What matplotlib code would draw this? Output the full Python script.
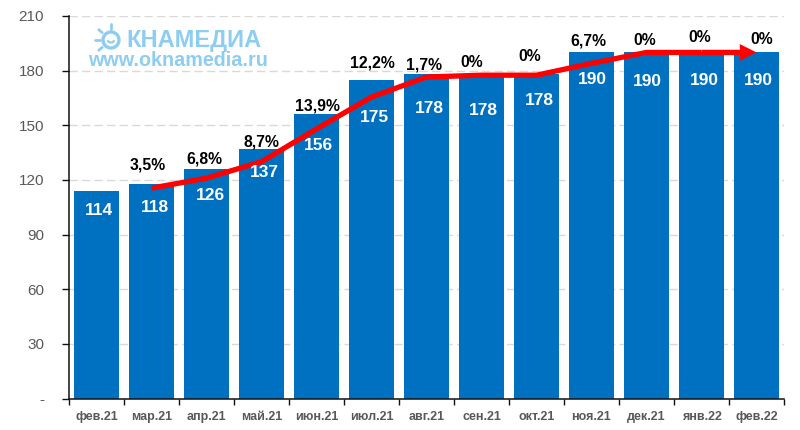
from __future__ import annotations

import matplotlib
matplotlib.use("Agg")
import matplotlib.pyplot as plt
import numpy as np
from matplotlib.patches import Circle, Arc


MONTHS = ["фев.21", "мар.21", "апр.21", "май.21", "июн.21", "июл.21", "авг.21",
          "сен.21", "окт.21", "ноя.21", "дек.21", "янв.22", "фев.22"]
PRICES = [114, 118, 126, 137, 156, 175, 178, 178, 178, 190, 190, 190, 190]
GROWTH = ["3,5%", "6,8%", "8,7%", "13,9%", "12,2%", "1,7%", "0%", "0%", "6,7%", "0%", "0%", "0%"]
TREND = [115.5, 121, 130, 148, 165.5, 176.5, 177.5, 177.5, 184, 190, 190, 190]
Y_TICKS = [0, 30, 60, 90, 120, 150, 180, 210]
Y_LABELS = ["-", "30", "60", "90", "120", "150", "180", "210"]

# hand placed label offsets in pixels, relative to top of bar
VALUE_DX = [2.5, 3.5, 3.5, 2.5, 1.5, 2.5, 2.5, 1.5, 2.5, 0.5, 0.5, 2.5, 1.5]
VALUE_DY = [20, 24, 27, 24, 31, 38, 34, 36, 26, 27.5, 29.5, 28, 28]
GROWTH_DX = [-3.5, -2.5, -0.5, 0.5, 0.5, -2.5, -9.5, -6.5, -3, -1.5, -2, 5.5]
GROWTH_DY = [18.6, 10, 7, 8, 17, 9, 12, 18, 11.5, 11.5, 14.5, 12.5]

BLUE = "#0070C0"
RED = "#FF0000"
LOGO = "#8ECDF2"
W, H = 800, 430
PX = 72 / 100  # points per pixel at dpi 100

plt.rcParams["font.family"] = ["Liberation Sans", "DejaVu Sans"]


def draw_logo(fig) -> None:
    over = fig.add_axes([0, 0, 1, 1], facecolor="none", zorder=5)
    over.set_xlim(0, W)
    over.set_ylim(H, 0)
    over.axis("off")
    cx, cy = 111, 40
    over.add_patch(Circle((cx, cy), 8, fill=False, ec=LOGO, lw=2.4))
    over.add_patch(Arc((cx, cy - 1), 7, 7, theta1=20, theta2=160, color=LOGO, lw=1.6))
    for angle in [90, 140, 180, 220]:
        a = np.deg2rad(angle)
        over.plot([cx + 11.5 * np.cos(a), cx + 16 * np.cos(a)],
                  [cy - 11.5 * np.sin(a), cy - 16 * np.sin(a)],
                  color=LOGO, lw=2.0, solid_capstyle="round")
    over.text(126, 40, "КНАМЕДИА", color=LOGO, fontsize=17, fontweight="bold", va="center", ha="left")
    over.text(88, 61, "www.oknamedia.ru", color=LOGO, fontsize=14.2, fontweight="bold", va="center", ha="left")


def main() -> None:
    fig = plt.figure(figsize=(W / 100, H / 100), dpi=100, facecolor="white")
    ax = fig.add_axes([69 / W, 1 - 398.5 / H, (784 - 69) / W, (398.5 - 16) / H])
    x = np.arange(len(MONTHS))

    ax.bar(x, PRICES, width=0.83, color=BLUE, zorder=2)
    ax.set_xlim(-0.5, 12.5)
    ax.set_ylim(0, 210)

    ax.set_yticks(Y_TICKS, Y_LABELS, fontsize=11, color="#595959")
    ax.set_xticks(x, MONTHS, fontsize=9, color="#595959", fontweight="bold")
    ax.set_xticks(np.arange(-0.5, 13), minor=True)
    ax.tick_params(axis="y", length=5, width=1, pad=13, color="#111111")
    ax.tick_params(axis="x", which="major", length=0, pad=9)
    ax.tick_params(axis="x", which="minor", length=4, width=1, color="#111111")
    ax.grid(axis="y", color="#D9D9D9", linestyle=(0, (6, 3)), linewidth=1, zorder=1)
    ax.set_axisbelow(True)
    for side in ["top", "right"]:
        ax.spines[side].set_visible(False)
    for side in ["left", "bottom"]:
        ax.spines[side].set_color("#111111")
        ax.spines[side].set_linewidth(1.1)

    # red trend with arrow head on the last segment
    ax.plot(x[1:-1], TREND[:-1], color=RED, lw=3.8, zorder=3, solid_joinstyle="round", solid_capstyle="butt")
    ax.annotate("", xy=(x[-1], TREND[-1]), xytext=(x[-2], TREND[-2]), zorder=3,
                arrowprops=dict(arrowstyle="simple,tail_width=0.32,head_width=1.0,head_length=1.0",
                                fc=RED, ec=RED, lw=0, shrinkA=0, shrinkB=0, mutation_scale=12))

    for i, value in enumerate(PRICES):
        ax.annotate(str(value), xy=(x[i], value), xytext=(VALUE_DX[i] * PX, -VALUE_DY[i] * PX),
                    textcoords="offset points", ha="center", va="center", color="white",
                    fontsize=12.5, fontweight="bold", zorder=4)
    for i, label in enumerate(GROWTH):
        ax.annotate(label, xy=(x[i + 1], PRICES[i + 1]), xytext=(GROWTH_DX[i] * PX, GROWTH_DY[i] * PX),
                    textcoords="offset points", ha="center", va="center", color="black",
                    fontsize=11.3, fontweight="bold", zorder=4)

    draw_logo(fig)
    fig.savefig("out.png", dpi=100)
    plt.close(fig)


if __name__ == "__main__":
    main()
